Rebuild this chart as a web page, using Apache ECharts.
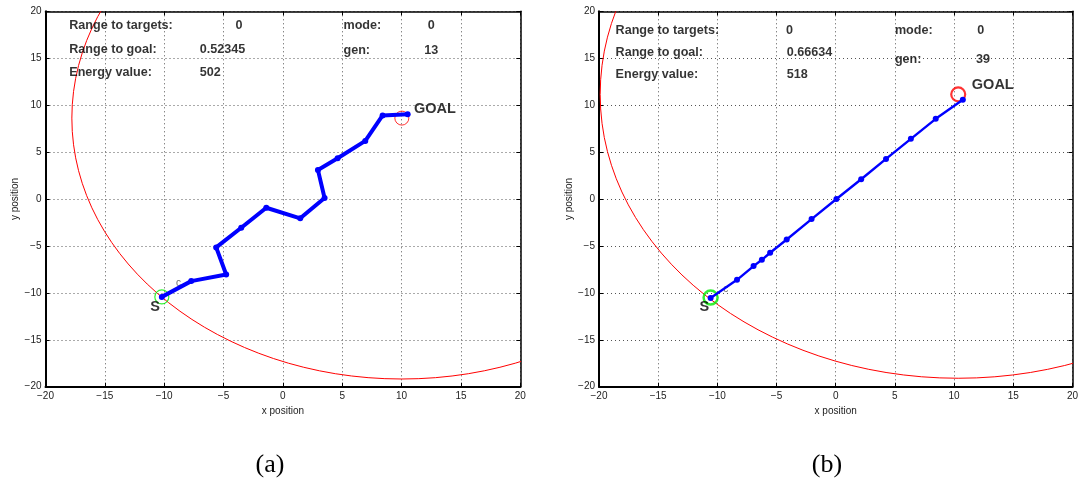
<!DOCTYPE html>
<html>
<head>
<meta charset="utf-8">
<script src="https://cdn.jsdelivr.net/npm/echarts@6/dist/echarts.min.js"></script>
<style>
  html, body { margin: 0; padding: 0; background: #fff; }
  #chart { width: 1081px; height: 481px; }
</style>
</head>
<body>
<div id="chart"></div>
<script>
// ---- data -------------------------------------------------------------
// Axis range shared by both panels
const AXIS_MIN = -20;
const AXIS_MAX = 20;
const TICK_STEP = 5;

// Panel (a): wandering path found by the search
const pathA = [
  [-10.20, -10.43], [-7.72, -8.75], [-4.78, -8.04], [-5.62, -5.16],
  [-3.51, -3.06], [-1.40, -0.93], [1.46, -2.06], [3.51, 0.11],
  [2.95, 3.10], [4.61, 4.34], [6.94, 6.19], [8.40, 8.90], [10.51, 9.04]
];
const startA = [-10.20, -10.43];
const goalA = [10.02, 8.62];
const rangeRadiusA = 27.8;          // start-to-goal range ring, centred on the goal
const infoA = { targets: '0', goal: '0.52345', energy: '502', mode: '0', gen: '13' };

// Panel (b): straight path
const pathB = [
  [-10.57, -10.55], [-8.34, -8.61], [-6.94, -7.15], [-6.24, -6.48],
  [-5.54, -5.73], [-4.14, -4.31], [-2.04, -2.14], [0.06, 0.00],
  [2.15, 2.10], [4.25, 4.27], [6.35, 6.41], [8.45, 8.54], [10.74, 10.57]
];
const startB = [-10.57, -10.50];
const goalB = [10.35, 11.15];
const rangeRadiusB = 30.25;
const infoB = { targets: '0', goal: '0.66634', energy: '518', mode: '0', gen: '39' };

const infoNames = ['Range to targets:', 'Range to goal:', 'Energy value:', 'mode:', 'gen:'];
const captions = ['(a)', '(b)'];

// ---- layout (data coordinates of the text block in each panel) --------
const textLayout = [
  { nameX: -18.0, valX: -7.0, targetsValX: -4.0, rows: [18.5, 15.9, 13.5],
    modeX: 5.1, modeValX: 12.2, genValX: 11.9, modeY: 18.5, genY: 15.8,
    goalLbl: [11.05, 9.58], sLbl: [-10.77, -11.5], cLbl: [-9.0, -8.95] },
  { nameX: -18.6, valX: -4.14, targetsValX: -4.2, rows: [18.0, 15.6, 13.25],
    modeX: 5.0, modeValX: 11.95, genValX: 11.86, modeY: 17.95, genY: 14.9,
    goalLbl: [11.5, 12.18], sLbl: [-11.1, -11.5], cLbl: [-9.5, -9.6] }
];

const SANS = '"Liberation Sans", Arial, Helvetica, sans-serif';
const minus = v => (v < 0 ? '\u2212' + (-v) : String(v));

function xAxes(gi) {
  return [
    {
      type: 'value', gridIndex: gi, position: 'bottom',
      min: AXIS_MIN, max: AXIS_MAX, interval: TICK_STEP,
      axisLine: { onZero: false, lineStyle: { color: '#000', width: 2 } },
      axisTick: { inside: true, length: 4, lineStyle: { color: '#000' } },
      axisLabel: { formatter: minus, fontSize: 10, color: '#222', fontFamily: SANS, margin: 5 },
      splitLine: { show: true, lineStyle: { color: '#555', width: 1, type: [1, 3] } },
      name: 'x position', nameLocation: 'middle', nameGap: 17,
      nameTextStyle: { fontSize: 10, color: '#222', fontFamily: SANS }
    },
    {
      type: 'value', gridIndex: gi, position: 'top',
      min: AXIS_MIN, max: AXIS_MAX, interval: TICK_STEP,
      axisLine: { onZero: false, lineStyle: { color: '#000', width: 1.5 } },
      axisTick: { inside: true, length: 4, lineStyle: { color: '#000' } },
      axisLabel: { show: false }, splitLine: { show: false }
    }
  ];
}
function yAxes(gi) {
  return [
    {
      type: 'value', gridIndex: gi, position: 'left',
      min: AXIS_MIN, max: AXIS_MAX, interval: TICK_STEP,
      axisLine: { onZero: false, lineStyle: { color: '#000', width: 2 } },
      axisTick: { inside: true, length: 4, lineStyle: { color: '#000' } },
      axisLabel: { formatter: minus, fontSize: 10, color: '#222', fontFamily: SANS, margin: 4 },
      splitLine: { show: true, lineStyle: { color: '#555', width: 1, type: [1, 3] } },
      name: 'y position', nameLocation: 'middle', nameGap: 24,
      nameTextStyle: { fontSize: 10, color: '#222', fontFamily: SANS }
    },
    {
      type: 'value', gridIndex: gi, position: 'right',
      min: AXIS_MIN, max: AXIS_MAX, interval: TICK_STEP,
      axisLine: { onZero: false, lineStyle: { color: '#000', width: 1.5 } },
      axisTick: { inside: true, length: 4, lineStyle: { color: '#000' } },
      axisLabel: { show: false }, splitLine: { show: false }
    }
  ];
}

// Range ring: an ellipse on screen because x and y scales differ
function rangeRing(axisIdx, center, radius, width) {
  return {
    type: 'custom', xAxisIndex: axisIdx, yAxisIndex: axisIdx, clip: true, silent: true, z: 2,
    data: [[center[0], center[1], radius]],
    renderItem: (params, api) => {
      const c = api.coord([api.value(0), api.value(1)]);
      const s = api.size([api.value(2), api.value(2)]);
      return {
        type: 'ellipse',
        shape: { cx: c[0], cy: c[1], rx: s[0], ry: s[1] },
        style: { fill: 'none', stroke: '#ff0000', lineWidth: width }
      };
    }
  };
}

function ringMarker(axisIdx, pt, color, width) {
  return {
    type: 'scatter', xAxisIndex: axisIdx, yAxisIndex: axisIdx, silent: true, z: 3,
    symbol: 'circle', symbolSize: 14, data: [pt],
    itemStyle: { color: 'rgba(0,0,0,0)', borderColor: color, borderWidth: width }
  };
}

function pathSeries(axisIdx, pts, lineW, dotSize) {
  return {
    type: 'line', xAxisIndex: axisIdx, yAxisIndex: axisIdx, silent: true, z: 5,
    data: pts, symbol: 'circle', symbolSize: dotSize, showSymbol: true,
    lineStyle: { color: '#0000ff', width: lineW },
    itemStyle: { color: '#0000ff', borderWidth: 0 },
    animation: false
  };
}

function textSeries(axisIdx, info, L) {
  const items = [];
  const vals = [info.targets, info.goal, info.energy];
  infoNames.slice(0, 3).forEach((n, i) => items.push({ value: [L.nameX, L.rows[i]], t: n }));
  items.push({ value: [L.targetsValX, L.rows[0]], t: vals[0] });
  items.push({ value: [L.valX, L.rows[1]], t: vals[1] });
  items.push({ value: [L.valX, L.rows[2]], t: vals[2] });
  items.push({ value: [L.modeX, L.modeY], t: infoNames[3] });
  items.push({ value: [L.modeX, L.genY], t: infoNames[4] });
  items.push({ value: [L.modeValX, L.modeY], t: info.mode });
  items.push({ value: [L.genValX, L.genY], t: info.gen });
  const big = { fontSize: 14.5, fontWeight: 'bold' };
  items.push({ value: L.goalLbl, t: 'GOAL', big: true });
  items.push({ value: L.sLbl, t: 'S', big: true, center: true });
  items.push({ value: L.cLbl, t: 'c', small: true });
  return {
    type: 'scatter', xAxisIndex: axisIdx, yAxisIndex: axisIdx, silent: true, z: 4,
    symbolSize: 0,
    data: items.map(it => ({
      value: it.value,
      label: Object.assign(
        { formatter: it.t },
        it.big ? big : {},
        it.center ? { align: 'center' } : {},
        it.small ? { fontSize: 10, fontWeight: 'normal', color: '#444' } : {}
      )
    })),
    label: {
      show: true, position: [0, 0], align: 'left', verticalAlign: 'middle',
      fontFamily: SANS, fontWeight: 'bold', fontSize: 12.6, color: '#000'
    }
  };
}

const chart = echarts.init(document.getElementById('chart'), null, { renderer: 'canvas' });
chart.setOption({
  animation: false,
  backgroundColor: '#fff',
  grid: [
    { left: 45.5, right: 560.7, top: 11.3, bottom: 94.3, containLabel: false },
    { left: 599, right: 4.5, top: 11.3, bottom: 94.3, containLabel: false }
  ],
  xAxis: [...xAxes(0), ...xAxes(1)],
  yAxis: [...yAxes(0), ...yAxes(1)],
  series: [
    rangeRing(0, goalA, rangeRadiusA, 1),
    ringMarker(0, goalA, '#ff0000', 1),
    ringMarker(0, startA, '#00ee00', 1.2),
    textSeries(0, infoA, textLayout[0]),
    pathSeries(0, pathA, 4, 6),

    rangeRing(2, goalB, rangeRadiusB, 1),
    ringMarker(2, goalB, '#ff0000', 2.2),
    ringMarker(2, startB, '#00ee00', 2.5),
    textSeries(2, infoB, textLayout[1]),
    pathSeries(2, pathB, 2.4, 6)
  ],
  graphic: [
    { type: 'text', x: 270, y: 465, style: { text: captions[0], font: '26px "Liberation Serif", "Times New Roman", serif', fill: '#000', align: 'center', verticalAlign: 'middle' } },
    { type: 'text', x: 827, y: 465, style: { text: captions[1], font: '26px "Liberation Serif", "Times New Roman", serif', fill: '#000', align: 'center', verticalAlign: 'middle' } }
  ]
});
</script>
</body>
</html>
